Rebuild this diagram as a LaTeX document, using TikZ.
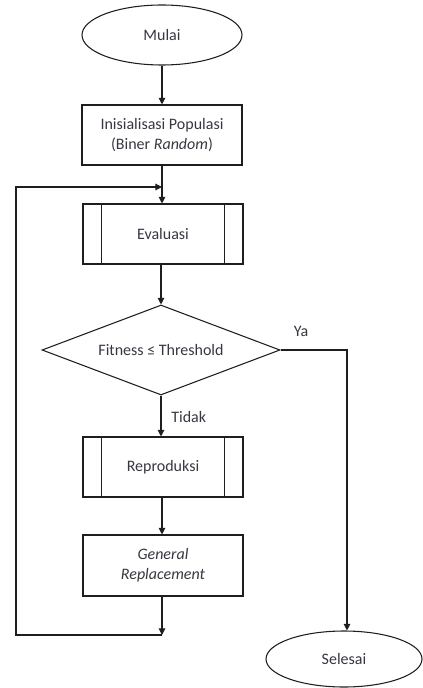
\documentclass[tikz,border=0pt]{standalone}
\usepackage{fontspec}
\setmainfont{Carlito}
\definecolor{fcline}{RGB}{30,30,30}
\definecolor{fctext}{RGB}{55,55,65}
\usetikzlibrary{arrows.meta,positioning,shapes.geometric}

\begin{document}
\begin{tikzpicture}[
  x=0.75pt,y=-0.75pt,
  every node/.style={font=\fontsize{12}{15}\selectfont,text=fctext},
  procbox/.style={draw=fcline,line width=0.8pt,minimum width=120pt,minimum height=45pt,
                  align=center,inner sep=2pt},
  termbox/.style={draw=fcline,line width=0.8pt,ellipse,minimum width=120pt,minimum height=45pt,
                  inner sep=0pt},
  decbox/.style={draw=fcline,line width=0.8pt,diamond,aspect=2.64,minimum width=178.5pt,
                 minimum height=67.5pt,inner sep=0pt},
  arr/.style={-{Triangle[length=5pt,width=5pt]},line width=0.8pt,fcline},
  ln/.style={line width=0.8pt,fcline},
]
  \useasboundingbox (0,0) rectangle (422,688);

  % start and init
  \node[termbox] (mulai) at (162,35) {Mulai};
  \node[procbox] (init) at (162,135) {Inisialisasi Populasi\\(Biner \textit{Random})};

  % evaluation (subprocess)
  \node[procbox] (eval) at (163,234) {Evaluasi};

  % decision
  \node[decbox] (cek) at (161,350) {Fitness \char"2264{} Threshold};

  % reproduction (subprocess)
  \node[procbox] (repro) at (163,467) {Reproduksi};

  % replacement
  \node[procbox,minimum height=45.75pt] (ganti) at (163,565.5) {\textit{General}\\\textit{Replacement}};

  % end
  \node[termbox,minimum width=117pt,minimum height=42pt] (selesai) at (344,659) {Selesai};

  % subprocess side bars
  \foreach \n in {eval,repro}{
    \draw[ln] ([xshift=14.25pt]\n.north west) -- ([xshift=14.25pt]\n.south west);
    \draw[ln] ([xshift=-14.25pt]\n.north east) -- ([xshift=-14.25pt]\n.south east);
  }

  % loop points
  \coordinate (masuk) at (162,187);
  \coordinate (balik) at (162,635);
  \coordinate (kanan) at (347,350);

  % Arrows
  \draw[arr] (mulai) -- (init);
  \draw[arr] (init.south) -- (eval.north -| init.south);
  \draw[arr] (eval.south -| cek.north) -- (cek.north);
  \draw[arr] (cek.south) -- (repro.north -| cek.south)
    node[midway,right,xshift=4pt,yshift=-1pt] {Tidak};
  \draw[arr] (repro.south -| init.south) -- (ganti.north -| init.south);
  \draw[arr] (ganti.south -| init.south) -- (balik);
  \draw[arr] (balik) -- ++(-146,0) |- (masuk);
  \draw[arr] (cek.east) -- (kanan) -- (selesai.north -| kanan);
  \node (ya) at (301,331) {Ya};
\end{tikzpicture}
\end{document}
